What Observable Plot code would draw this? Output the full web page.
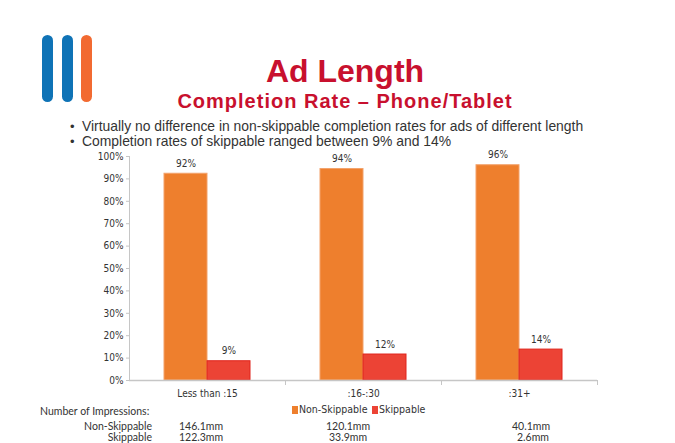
<!DOCTYPE html>
<html>
<head>
<meta charset="utf-8">
<script src="https://cdn.jsdelivr.net/npm/d3@7"></script>
<script src="https://cdn.jsdelivr.net/npm/@observablehq/plot@0.6"></script>
<style>
  html, body { margin: 0; padding: 0; background: #fff; }
  #page { position: relative; width: 675px; height: 443px; overflow: hidden; background: #fff; }
  .logo { position: absolute; top: 35px; width: 11px; height: 67px; border-radius: 6px; }
  #title { position: absolute; left: 0; width: 690px; top: 53px; text-align: center; font-family: "Liberation Sans", Arial, sans-serif; font-weight: 700; color: #c8102e; font-size: 32px; line-height: 36px; }
  #subtitle { position: absolute; left: 0; width: 690px; top: 90px; text-align: center; font-family: "Liberation Sans", Arial, sans-serif; font-weight: 700; color: #c8102e; font-size: 20px; letter-spacing: 1px; line-height: 22px; }
  .bullet { position: absolute; left: 70px; font-family: "Liberation Sans", Arial, sans-serif; font-size: 13.9px; color: #333; line-height: 16px; white-space: nowrap; }
  .bullet span { display: inline-block; width: 12px; font-size: 13px; }
  #chart { position: absolute; left: 0; top: 145px; }
  .small { position: absolute; font-family: "Liberation Sans Narrow", "DejaVu Sans Condensed", sans-serif; font-size: 10.5px; color: #333; white-space: nowrap; line-height: 12px; }
  .tbl { position: absolute; font-family: Lato, "Open Sans", sans-serif; font-size: 10.5px; color: #333; white-space: nowrap; line-height: 12px; }
  .sw { display: inline-block; width: 6px; height: 8px; margin-right: 1px; vertical-align: -1px; }
</style>
</head>
<body>
<div id="page">
  <div class="logo" style="left:42px;background:#0f73b6"></div>
  <div class="logo" style="left:62px;background:#0f73b6"></div>
  <div class="logo" style="left:81px;background:#f26a31"></div>
  <div id="title"></div>
  <div id="subtitle"></div>
  <div id="bullets"></div>
  <div id="chart"></div>
  <div id="legend"></div>
  <div id="table"></div>
</div>
<script>
const titleText = "Ad Length";
const subtitleText = "Completion Rate \u2013 Phone/Tablet";
const bulletTexts = [
  "Virtually no difference in non-skippable completion rates for ads of different length",
  "Completion rates of skippable ranged between 9% and 14%"
];
const categories = ["Less than :15", ":16-:30", ":31+"];
const seriesNames = ["Non-Skippable", "Skippable"];
const nonSkippable = [92.3, 94.4, 96.1];
const skippable = [8.6, 11.6, 13.8];
const yTicks = [0, 10, 20, 30, 40, 50, 60, 70, 80, 90, 100];
const impressionsLabel = "Number of Impressions:";
const nonSkippableImpressions = ["146.1mm", "120.1mm", "40.1mm"];
const skippableImpressions = ["122.3mm", "33.9mm", "2.6mm"];
const colors = ["#ee7f2d", "#ec4335"];
const strokes = ["#f3a26b", "#e0241c"];

document.getElementById("title").textContent = titleText;
document.getElementById("subtitle").textContent = subtitleText;
const bl = document.getElementById("bullets");
bulletTexts.forEach((t, i) => {
  const d = document.createElement("div");
  d.className = "bullet";
  d.style.top = (118 + i * 15) + "px";
  d.innerHTML = "<span>\u2022</span>";
  d.appendChild(document.createTextNode(t));
  bl.appendChild(d);
});

const data = [];
categories.forEach((c, i) => {
  data.push({cat: c, series: seriesNames[0], value: nonSkippable[i]});
  data.push({cat: c, series: seriesNames[1], value: skippable[i]});
});

const font = '"Liberation Sans Narrow", "DejaVu Sans Condensed", sans-serif';
const chart = Plot.plot({
  width: 675,
  height: 255,
  marginLeft: 128,
  marginRight: 77,
  marginTop: 11,
  marginBottom: 20,
  style: {fontFamily: font, fontSize: "10px", color: "#333", background: "transparent"},
  fx: {domain: categories, padding: 0, axis: null},
  x: {domain: seriesNames, paddingInner: 0, paddingOuter: 0.78, axis: null},
  y: {domain: [0, 100], axis: null},
  color: {domain: seriesNames, range: colors},
  marks: [
    Plot.frame({anchor: "left", facetAnchor: "left", stroke: "#c6c6c6"}),
    Plot.axisY({ticks: yTicks, tickFormat: d => d + "%", tickSize: 3, tickPadding: 3, stroke: "#c6c6c6", fill: "#333", fontSize: 10, label: null}),
    Plot.barY(data, {fx: "cat", x: "series", y: "value", fill: "series", stroke: d => d.series === seriesNames[0] ? strokes[0] : strokes[1], strokeWidth: 1}),
    Plot.text(data, {fx: "cat", x: "series", y: "value", text: d => Math.round(d.value) + "%", dy: -10, fill: "#333", fontSize: 10}),
    Plot.ruleY([0], {stroke: "#c6c6c6", strokeWidth: 1.5}),
    Plot.frame({anchor: "right", stroke: "#c6c6c6", insetTop: 224, insetBottom: -4}),
    Plot.axisFx({domain: categories, anchor: "bottom", tickSize: 0, tickPadding: 9, fill: "#333", fontSize: 10, label: null})
  ]
});
document.getElementById("chart").appendChild(chart);

// legend
const lg = document.getElementById("legend");
const legendX = [292, 372];
seriesNames.forEach((s, i) => {
  const d = document.createElement("div");
  d.className = "small";
  d.style.left = legendX[i] + "px";
  d.style.top = "403px";
  d.innerHTML = '<span class="sw" style="background:' + colors[i] + '"></span>';
  d.appendChild(document.createTextNode(s));
  lg.appendChild(d);
});

// impressions table
const tb = document.getElementById("table");
function addText(txt, left, top, right) {
  const d = document.createElement("div");
  d.className = "tbl";
  d.style.top = top + "px";
  if (right != null) { d.style.right = right + "px"; } else { d.style.left = left + "px"; }
  d.textContent = txt;
  tb.appendChild(d);
}
addText(impressionsLabel, 40, 405);
addText(seriesNames[0], null, 420, 675 - 152);
addText(seriesNames[1], null, 431, 675 - 152);
const colX1 = [179, 326, 512];
const colX2 = [179, 329, 517];
nonSkippableImpressions.forEach((t, i) => addText(t, colX1[i], 420));
skippableImpressions.forEach((t, i) => addText(t, colX2[i], 431));
</script>
</body>
</html>
